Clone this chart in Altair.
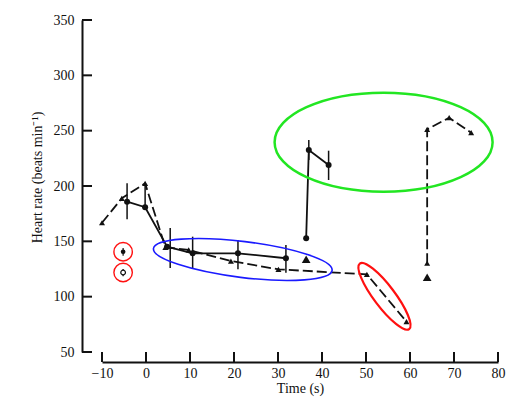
import altair as alt
import pandas as pd

# ---------------- data ----------------
x_ticks = [-10, 0, 10, 20, 30, 40, 50, 60, 70, 80]
y_ticks = [50, 100, 150, 200, 250, 300, 350]

# solid series (circles)
circ_t = [-4.3, -0.2, 4.8, 10.6, 20.9, 31.8, 36.4, 37.0, 41.5]
circ_hr = [185.8, 180.8, 145.2, 139.2, 139.2, 134.7, 152.7, 232.5, 219.0]
circ_seg = [1, 1, 1, 1, 1, 1, 2, 2, 2]

# error bars of solid series
err_t = [-4.3, -0.2, 5.5, 10.6, 20.9, 31.8, 37.0, 41.5]
err_lo = [170.0, 181.0, 126.0, 125.6, 124.7, 121.7, 223.5, 205.4]
err_hi = [202.4, 202.0, 162.0, 154.2, 151.2, 146.7, 241.6, 231.9]

# dashed series (triangles)
tri_t = [-10, -5.5, -0.2, 4.4, 9.7, 19.3, 30.1, 50.2, 59.2, 63.9, 63.9, 68.9, 73.9]
tri_hr = [166.8, 188.9, 202.4, 144.6, 142.2, 132.2, 124.7, 120.2, 77.4, 130.2, 251.2, 261.7, 248.2]
tri_seg = [1, 1, 1, 1, 1, 1, 1, 1, 1, 2, 2, 2, 2]

# large unconnected triangles
big_t = [36.4, 63.9]
big_hr = [133.8, 117.5]

# resting values (small markers inside red circles)
rest_t = [-5.2, -5.2]
rest_hr = [140.6, 121.8]
rest_lo = [137.0, 118.5]
rest_hi = [144.0, 125.0]
rest_fill = ["filled", "open"]

# annotation ellipses: centre (t, hr)
green_c = (54.0, 239.6)
blue_c = (22.0, 133.6)
red_c = (54.2, 100.3)

# ---------------- tables ----------------
circ = pd.DataFrame({"t": circ_t, "hr": circ_hr, "seg": circ_seg, "i": range(len(circ_t))})
err = pd.DataFrame({"t": err_t, "hr": err_lo, "hr2": err_hi})
tri = pd.DataFrame({"t": tri_t, "hr": tri_hr, "seg": tri_seg, "i": range(len(tri_t))})
big = pd.DataFrame({"t": big_t, "hr": big_hr})
rest = pd.DataFrame({"t": rest_t, "hr": rest_hr, "lo": rest_lo, "hi": rest_hi, "kind": rest_fill})
xt = pd.DataFrame({"t": x_ticks})
yt = pd.DataFrame({"hr": y_ticks})

W, H = 396, 332
FONT = "Liberation Serif"
INK = "#111111"

xs = alt.Scale(domain=[-10, 80], nice=False, zero=False)
ys = alt.Scale(domain=[50, 350], nice=False, zero=False)

xaxis = alt.Axis(values=x_ticks, format="d", title="Time (s)", offset=10, grid=False,
                 ticks=False, tickSize=0, domainColor=INK, domainWidth=2,
                 labelFont=FONT, labelFontSize=14, labelColor=INK, labelPadding=4,
                 labelFlush=False, labelOverlap=False,
                 titleFont=FONT, titleFontSize=14, titleFontWeight="normal",
                 titleColor=INK, titlePadding=1)
yaxis = alt.Axis(values=y_ticks, format="d", title="Heart rate (beats min⁻¹)", offset=20,
                 grid=False, ticks=False, tickSize=0, domainColor=INK, domainWidth=2,
                 labelFont=FONT, labelFontSize=14, labelColor=INK, labelPadding=8,
                 labelFlush=False, labelOverlap=False,
                 titleFont=FONT, titleFontSize=14, titleFontWeight="normal",
                 titleColor=INK, titleX=-45, titleY=157, titleAlign="center",
                 titleBaseline="middle", titleAngle=-90)

X = alt.X("t:Q", scale=xs, axis=xaxis)
Y = alt.Y("hr:Q", scale=ys, axis=yaxis)

# axis ticks pointing inward
xtick = alt.Chart(xt).mark_rule(color=INK, strokeWidth=2).encode(
    x=X, y=alt.value(H + 10), y2=alt.value(H))
ytick = alt.Chart(yt).mark_rule(color=INK, strokeWidth=2).encode(
    y=Y, x=alt.value(-20), x2=alt.value(-10))

errbars = alt.Chart(err).mark_rule(color=INK, strokeWidth=1.5).encode(
    x=X, y=Y, y2="hr2:Q")

solid = alt.Chart(circ).mark_line(color=INK, strokeWidth=1.8).encode(
    x=X, y=Y, detail="seg:N", order="i:Q")
circles = alt.Chart(circ).mark_point(shape="circle", filled=True, color=INK,
                                     size=36, opacity=1).encode(x=X, y=Y)

dashed = alt.Chart(tri).mark_line(color=INK, strokeWidth=1.8, strokeDash=[10, 4]).encode(
    x=X, y=Y, detail="seg:N", order="i:Q")
tris = alt.Chart(tri).mark_point(shape="triangle-up", filled=True, color=INK,
                                 size=36, opacity=1).encode(x=X, y=Y)
bigtris = alt.Chart(big).mark_point(shape="triangle-up", filled=True, color=INK,
                                    size=75, opacity=1).encode(x=X, y=Y)

rest_bars = alt.Chart(rest).mark_rule(color=INK, strokeWidth=1.2).encode(
    x=X, y=alt.Y("lo:Q", scale=ys, axis=yaxis), y2="hi:Q")
rest_f = alt.Chart(rest[rest.kind == "filled"]).mark_point(
    shape="circle", filled=True, color=INK, size=22, opacity=1).encode(x=X, y=Y)
rest_o = alt.Chart(rest[rest.kind == "open"]).mark_point(
    shape="circle", filled=False, color=INK, fill="white", size=22, strokeWidth=1.2,
    opacity=1).encode(x=X, y=Y)


def ellipse_path(k):
    c = 0.5523
    return (f"M1,0 C1,{c*k:.4f} {c:.4f},{k:.4f} 0,{k:.4f} "
            f"C{-c:.4f},{k:.4f} -1,{c*k:.4f} -1,0 "
            f"C-1,{-c*k:.4f} {-c:.4f},{-k:.4f} 0,{-k:.4f} "
            f"C{c:.4f},{-k:.4f} 1,{-c*k:.4f} 1,0 Z")


def ellipse(center, a, b, angle, color, sw):
    df = pd.DataFrame({"t": [center[0]], "hr": [center[1]]})
    return alt.Chart(df).mark_point(shape=ellipse_path(b / a), filled=False, color=color,
                                    size=(2 * a) ** 2, angle=angle, strokeWidth=sw,
                                    opacity=1).encode(x=X, y=Y)


green = ellipse(green_c, 109, 49.5, 0, "#22e622", 2.5)
blue = ellipse(blue_c, 90, 18, 7, "#1a1aff", 1.6)
red = ellipse(red_c, 41, 10.5, 53, "#ff1010", 2.2)

rest_rings = alt.Chart(rest).mark_point(shape="circle", filled=False, color="#ff1010",
                                        size=340, strokeWidth=1.4, opacity=1).encode(x=X, y=Y)

chart = alt.layer(
    xtick, ytick, errbars, solid, dashed, circles, tris, bigtris,
    rest_bars, rest_f, rest_o, green, blue, red, rest_rings
).properties(
    width=W, height=H,
    autosize=alt.AutoSizeParams(type="none"),
    padding={"left": 94, "top": 12, "right": 20, "bottom": 60},
    background="white",
).configure_view(stroke=None)

chart.save("out.html", embed_options={"renderer": "svg", "actions": False})
